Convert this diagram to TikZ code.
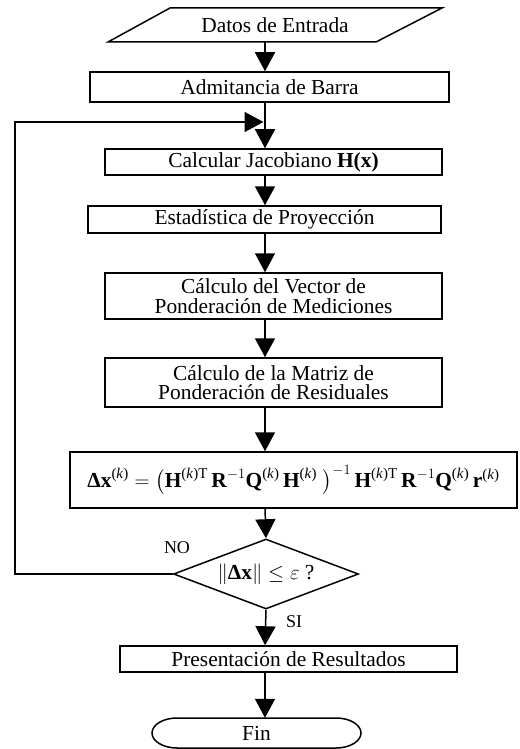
\documentclass[tikz,border=0pt]{standalone}
\usepackage{amsmath}
\usepackage{fontspec}
\setmainfont{Liberation Serif}
\usetikzlibrary{arrows.meta,shapes.geometric}
\newcommand\bfv[1]{\text{\bfseries #1}}
\newcommand\sk{\text{(\textit{k})}}
\newcommand\skT{\text{(\textit{k})T}}
\begin{document}
\begin{tikzpicture}[x=1pt,y=-1pt,
  every node/.style={font=\fontsize{21.4}{19.5}\selectfont, inner sep=0pt, align=center},
  box/.style={draw, line width=1.5pt},
  ln/.style={line width=1.5pt},
  arr/.style={line width=1.5pt, -{Triangle[length=19pt,width=20pt]}},
  lbl/.style={font=\fontsize{18}{20}\selectfont}]
\useasboundingbox (0,0) rectangle (519,749);
\coordinate (ax) at (265,0);
\coordinate (lc) at (15,122);
\coordinate (jn) at (265,122);
% nodes
\node[minimum width=334, minimum height=34] (in) at (275,25) {Datos de Entrada};
\draw[ln] (108,42) -- (170,8) -- (442,8) -- (376,42) -- cycle;
\node[box, minimum width=359, minimum height=30] (adm) at (269.5,87) {Admitancia de Barra};
\node[box, minimum width=337, minimum height=26] (cal) at (273.5,162) {Calcular Jacobiano \textbf{H(x)}};
\node[box, minimum width=353, minimum height=27] (est) at (264.5,219.5) {Estadística de Proyección};
\node[box, minimum width=337, minimum height=46] (vec) at (273.5,296) {Cálculo del Vector de\\Ponderación de Mediciones};
\node[box, minimum width=337, minimum height=49] (mat) at (273.5,382.5) {Cálculo de la Matriz de\\Ponderación de Residuales};
\node[box, minimum width=447, minimum height=56] (frm) at (293.5,480) {$\bfv{Δx}^{\sk} = \bigl(\bfv{H}^{\skT}\,\bfv{R}^{-1}\bfv{Q}^{\sk}\,\bfv{H}^{\sk}\;\bigr)^{-1}\,\bfv{H}^{\skT}\,\bfv{R}^{-1}\bfv{Q}^{\sk}\,\bfv{r}^{\sk}$};
\node[draw, diamond, line width=1.5pt, aspect=2.64, minimum width=185, minimum height=70] (dec) at (266,574) {$\left\|\bfv{Δx}\right\|\le\varepsilon$ ?};
\node[box, minimum width=337, minimum height=26] (pres) at (288.5,659) {Presentación de Resultados};
\node[minimum width=209, minimum height=30] (fin) at (256.5,733) {Fin};
\draw[ln] (177,718) -- (336,718) arc[start angle=-90,end angle=90,x radius=25,y radius=15] -- (177,748) arc[start angle=90,end angle=270,x radius=25,y radius=15] -- cycle;
\node[lbl] (no) at (177,548) {NO};
\node[lbl] (si) at (294,622) {SI};
% connectors
\draw[arr] (in.south -| ax) -- (adm.north -| ax);
\draw[arr] (adm.south -| ax) -- (cal.north -| ax);
\draw[arr] (cal.south -| ax) -- (est.north -| ax);
\draw[arr] (est.south -| ax) -- (vec.north -| ax);
\draw[arr] (vec.south -| ax) -- (mat.north -| ax);
\draw[arr] (mat.south -| ax) -- (frm.north -| ax);
\draw[arr] (frm.south -| ax) -- (dec.north);
\draw[arr] (dec.south) -- (pres.north -| ax);
\draw[arr] (pres.south -| ax) -- (fin.north -| ax);
\draw[arr, shorten >=1.5pt] (dec.west) -| (lc) -- (jn);
\end{tikzpicture}
\end{document}
